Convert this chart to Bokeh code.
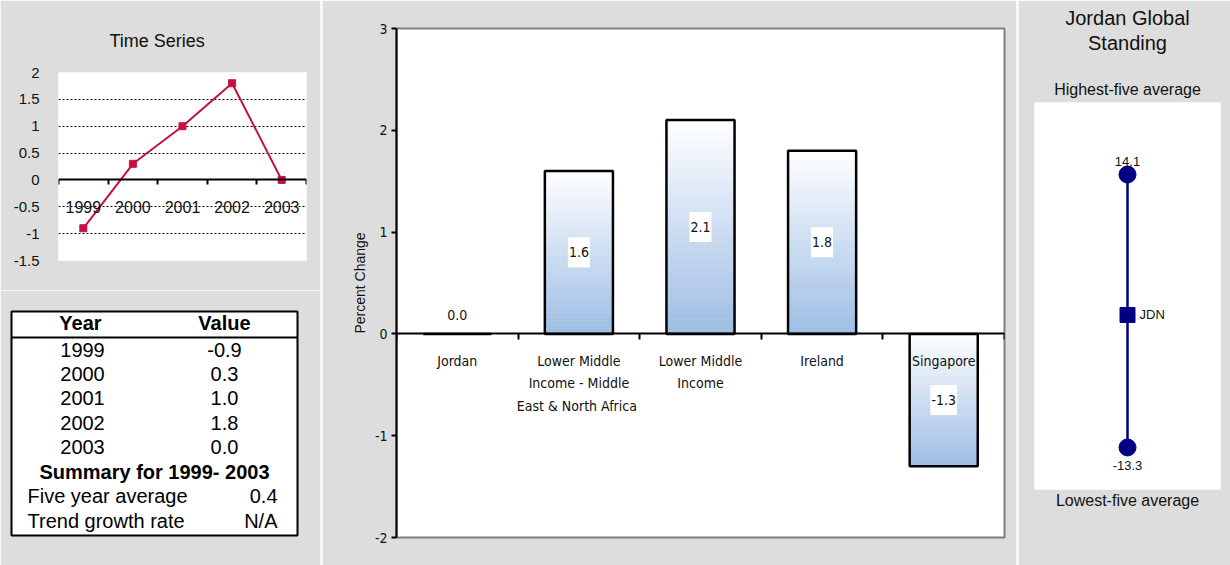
import numpy as np
from bokeh.plotting import figure
from bokeh.layouts import row, column
from bokeh.models import Range1d, LinearAxis, FixedTicker, Span, ColumnDataSource
from bokeh.core.properties import value
from bokeh.embed import file_html
from bokeh.resources import INLINE

# ---------------- data ----------------
years = ["1999", "2000", "2001", "2002", "2003"]
yearly_change = [-0.9, 0.3, 1.0, 1.8, 0.0]
summary_title = "Summary for 1999- 2003"
stat_names = ["Five year average", "Trend growth rate"]
stat_values = ["0.4", "N/A"]

ts_ticks = [-1.5, -1, -0.5, 0, 0.5, 1, 1.5, 2]
ts_tick_labels = ["-1.5", "-1", "-0.5", "0", "0.5", "1", "1.5", "2"]

groups = ["Jordan",
          "Lower Middle\nIncome - Middle\nEast &  North Africa",
          "Lower Middle\nIncome",
          "Ireland",
          "Singapore"]
group_change = [0.0, 1.6, 2.1, 1.8, -1.3]
main_ticks = [-2, -1, 0, 1, 2, 3]
main_tick_labels = ["-2", "-1", "0", "1", "2", "3"]

highest_five_avg = 14.1
lowest_five_avg = -13.3
country_code = "JDN"
country_value = 0.0

# ---------------- styling ----------------
BG = "#dddddd"
SEP = "#f7f7f7"
FONT = "Liberation Sans"
NARROW = "DejaVu Sans Condensed, Liberation Sans, sans-serif"
INK = "#111111"
CRIMSON = "#c81040"
NAVY = "#000080"
BAR_TOP = np.array([255, 255, 255])
BAR_BOTTOM = np.array([157, 189, 228])


def base_fig(**kw):
    return figure(output_backend="svg", toolbar_location=None, frame_align=False,
                  border_fill_color=BG, **kw)


def label_axis(text, size, standoff):
    """A bare axis used only to carry a caption at a set distance."""
    return LinearAxis(ticker=FixedTicker(ticks=[]), axis_line_color=None,
                      major_tick_in=0, major_tick_out=0, major_label_standoff=0,
                      minor_tick_line_color=None, major_tick_line_color=None,
                      axis_label=text, axis_label_standoff=standoff,
                      axis_label_text_font=FONT, axis_label_text_font_size=size,
                      axis_label_text_font_style="normal", axis_label_text_color=INK)


# ---------------- time series ----------------
ts = base_fig(width=320, height=290, x_range=Range1d(0, len(years)),
              y_range=Range1d(ts_ticks[0], ts_ticks[-1]),
              min_border_left=58, min_border_right=14,
              min_border_top=72, min_border_bottom=30,
              background_fill_color="white", outline_line_color=None,
              x_axis_type=None)
ts.title.text = "Time Series"
ts.title.align = "left"
ts.title.offset = 51
ts.title.text_font = FONT
ts.title.text_font_size = "18px"
ts.title.text_font_style = "normal"
ts.title.text_color = INK
ts.title.standoff = 44

ts.yaxis.ticker = FixedTicker(ticks=ts_ticks)
ts.yaxis.major_label_overrides = dict(zip(ts_ticks, ts_tick_labels))
ts.yaxis.axis_line_color = None
ts.yaxis.major_tick_line_color = None
ts.yaxis.minor_tick_line_color = None
ts.yaxis.major_label_text_font = FONT
ts.yaxis.major_label_text_font_size = "15px"
ts.yaxis.major_label_text_color = INK
ts.yaxis.major_label_standoff = 13

ts.xgrid.visible = False
ts.ygrid.ticker = FixedTicker(ticks=[t for t in ts_ticks if t not in (0, ts_ticks[0])])
ts.ygrid.grid_line_color = "black"
ts.ygrid.grid_line_dash = "2 2"
ts.ygrid.grid_line_width = 1

bounds = list(range(len(years) + 1))
ts_axis = LinearAxis(fixed_location=0, ticker=FixedTicker(ticks=bounds),
                     axis_line_width=2, axis_line_color="black",
                     major_tick_in=0, major_tick_out=5, major_tick_line_width=2,
                     minor_tick_line_color=None,
                     major_label_overrides={b: "" for b in bounds})
ts.add_layout(ts_axis, "below")

ts_x = [i + 0.5 for i in range(len(years))]
ts.line(ts_x, yearly_change, line_color=CRIMSON, line_width=2)
ts.scatter(ts_x, yearly_change, marker="square", size=7, color=CRIMSON)
ts.text(ts_x, [0] * len(years), text=years, y_offset=27,
        text_align="center", text_baseline="middle",
        text_font=value(FONT), text_font_size="16px", text_color=INK)

# ---------------- summary table ----------------
tbl = base_fig(width=320, height=275, x_range=Range1d(0, 286), y_range=Range1d(224, 0),
               min_border_left=11, min_border_right=23,
               min_border_top=21, min_border_bottom=30,
               background_fill_color="white", outline_line_color="black",
               outline_line_width=2, x_axis_type=None, y_axis_type=None)
tbl.xgrid.visible = False
tbl.ygrid.visible = False

row_step = 24.43
first_row = 38
year_rows = [first_row + row_step * i for i in range(len(years))]
tsize = "20px"
tbl.text([69, 213], [11, 11], text=["Year", "Value"], text_align="center",
         text_baseline="middle", text_font=value(FONT), text_font_size=tsize,
         text_font_style="bold", text_color="black")
tbl.add_layout(Span(location=26, dimension="width", line_color="black", line_width=2))
tbl.text([71] * len(years), year_rows, text=years, text_align="center",
         text_baseline="middle", text_font=value(FONT), text_font_size=tsize,
         text_color="black")
tbl.text([213] * len(years), year_rows, text=[f"{v:.1f}" for v in yearly_change],
         text_align="center", text_baseline="middle", text_font=value(FONT),
         text_font_size=tsize, text_color="black")
sum_row = first_row + row_step * len(years)
tbl.text([143], [sum_row], text=[summary_title], text_align="center",
         text_baseline="middle", text_font=value(FONT), text_font_size=tsize,
         text_font_style="bold", text_color="black")
stat_rows = [sum_row + row_step * (i + 1) for i in range(len(stat_names))]
tbl.text([16] * len(stat_names), stat_rows, text=stat_names, text_align="left",
         text_baseline="middle", text_font=value(FONT), text_font_size=tsize,
         text_color="black")
tbl.text([266] * len(stat_values), stat_rows, text=stat_values, text_align="right",
         text_baseline="middle", text_font=value(FONT), text_font_size=tsize,
         text_color="black")

# ---------------- comparison bars ----------------
mp = base_fig(width=694, height=565, x_range=Range1d(0, len(groups)),
              y_range=Range1d(main_ticks[0], main_ticks[-1]),
              min_border_left=74, min_border_right=12,
              min_border_top=28, min_border_bottom=28,
              background_fill_color="white", outline_line_color="#808080",
              outline_line_width=2, x_axis_type=None)
mp.grid.visible = False
mp.yaxis.ticker = FixedTicker(ticks=main_ticks)
mp.yaxis.major_label_overrides = dict(zip(main_ticks, main_tick_labels))
mp.yaxis.axis_line_color = "black"
mp.yaxis.axis_line_width = 2
mp.yaxis.major_tick_in = 0
mp.yaxis.major_tick_out = 5
mp.yaxis.major_tick_line_width = 2
mp.yaxis.minor_tick_line_color = None
mp.yaxis.major_label_text_font = NARROW
mp.yaxis.major_label_text_font_size = "14px"
mp.yaxis.major_label_text_color = INK
mp.yaxis.major_label_standoff = 4
mp.yaxis.axis_label = "Percent Change"
mp.yaxis.axis_label_text_font = FONT
mp.yaxis.axis_label_text_font_size = "14px"
mp.yaxis.axis_label_text_font_style = "normal"
mp.yaxis.axis_label_text_color = INK
mp.yaxis.axis_label_standoff = 4

gbounds = list(range(len(groups) + 1))
zero_axis = LinearAxis(fixed_location=0, ticker=FixedTicker(ticks=gbounds),
                       axis_line_width=2, axis_line_color="black",
                       major_tick_in=0, major_tick_out=6, major_tick_line_width=2,
                       minor_tick_line_color=None,
                       major_label_overrides={b: "" for b in gbounds})
mp.add_layout(zero_axis, "below")

centers = [i + 0.5 for i in range(len(groups))]
bar_w = 0.56
# vertical white-to-blue gradient inside each bar
n_slices = 60
L, R, T, B, C = [], [], [], [], []
for cx, v in zip(centers, group_change):
    hi, lo = max(v, 0.0), min(v, 0.0)
    if hi == lo:
        continue
    for k in range(n_slices):
        f = (k + 0.5) / n_slices
        rgb = BAR_TOP + (BAR_BOTTOM - BAR_TOP) * f
        L.append(cx - bar_w / 2)
        R.append(cx + bar_w / 2)
        T.append(hi + (lo - hi) * k / n_slices)
        B.append(hi + (lo - hi) * (k + 1) / n_slices)
        C.append("#%02x%02x%02x" % tuple(int(round(c)) for c in rgb))
mp.quad(left=L, right=R, top=T, bottom=B, fill_color=C, line_color=C, line_width=0.6)
mp.vbar(x=centers, width=bar_w, top=group_change, bottom=0,
        fill_color=None, line_color="black", line_width=2.5)

lbl_src = ColumnDataSource(dict(
    x=centers,
    y=[v / 2 for v in group_change],
    t=[f"{v:.1f}" for v in group_change],
    dy=[-19 if v == 0 else 0 for v in group_change],
))
mp.text(x="x", y="y", text="t", y_offset="dy", source=lbl_src,
        text_align="center", text_baseline="middle",
        text_font=value(NARROW), text_font_size="14px", text_color=INK,
        background_fill_color="white", padding=(1, 10))
mp.text(centers, [0] * len(groups), text=groups, y_offset=19,
        text_align="center", text_baseline="top", text_line_height=1.4,
        text_font=value(NARROW), text_font_size="14px", text_color=INK)

# ---------------- global standing ----------------
rf = base_fig(width=212, height=565, x_range=Range1d(-1, 1), y_range=Range1d(-17.52, 21.33),
              min_border_left=16, min_border_right=10,
              min_border_top=102, min_border_bottom=76,
              background_fill_color="white", outline_line_color=None,
              x_axis_type=None, y_axis_type=None)
rf.grid.visible = False
rf.add_layout(label_axis("Highest-five average", "16px", 5), "above")
rf.add_layout(label_axis("Standing", "20px", 24), "above")
rf.add_layout(label_axis("Jordan Global", "20px", 0), "above")
rf.add_layout(label_axis("Lowest-five average", "16px", 2), "below")

rf.line([0, 0], [highest_five_avg, lowest_five_avg], line_color=NAVY, line_width=2.5)
rf.scatter([0, 0], [highest_five_avg, lowest_five_avg], marker="circle", size=17,
           color=NAVY)
rf.scatter([0], [country_value], marker="square", size=15, color=NAVY)
rf.text([0, 0], [highest_five_avg, lowest_five_avg],
        text=[f"{highest_five_avg:.1f}", f"{lowest_five_avg:.1f}"],
        y_offset=[-13, 18], text_align="center", text_baseline="middle",
        text_font=value(FONT), text_font_size="13px", text_color=INK)
rf.text([0], [country_value], text=[country_code], x_offset=12,
        text_align="left", text_baseline="middle",
        text_font=value(FONT), text_font_size="13px", text_color=INK)


def separator():
    s = figure(width=2, height=565, output_backend="svg", toolbar_location=None,
               frame_align=False, min_border=0, x_axis_type=None, y_axis_type=None,
               background_fill_color=SEP, border_fill_color=SEP,
               outline_line_color=None)
    s.grid.visible = False
    return s


layout = row(column(ts, tbl, spacing=0), separator(), mp, separator(), rf, spacing=0)
open("out.html", "w").write(file_html(layout, INLINE))
